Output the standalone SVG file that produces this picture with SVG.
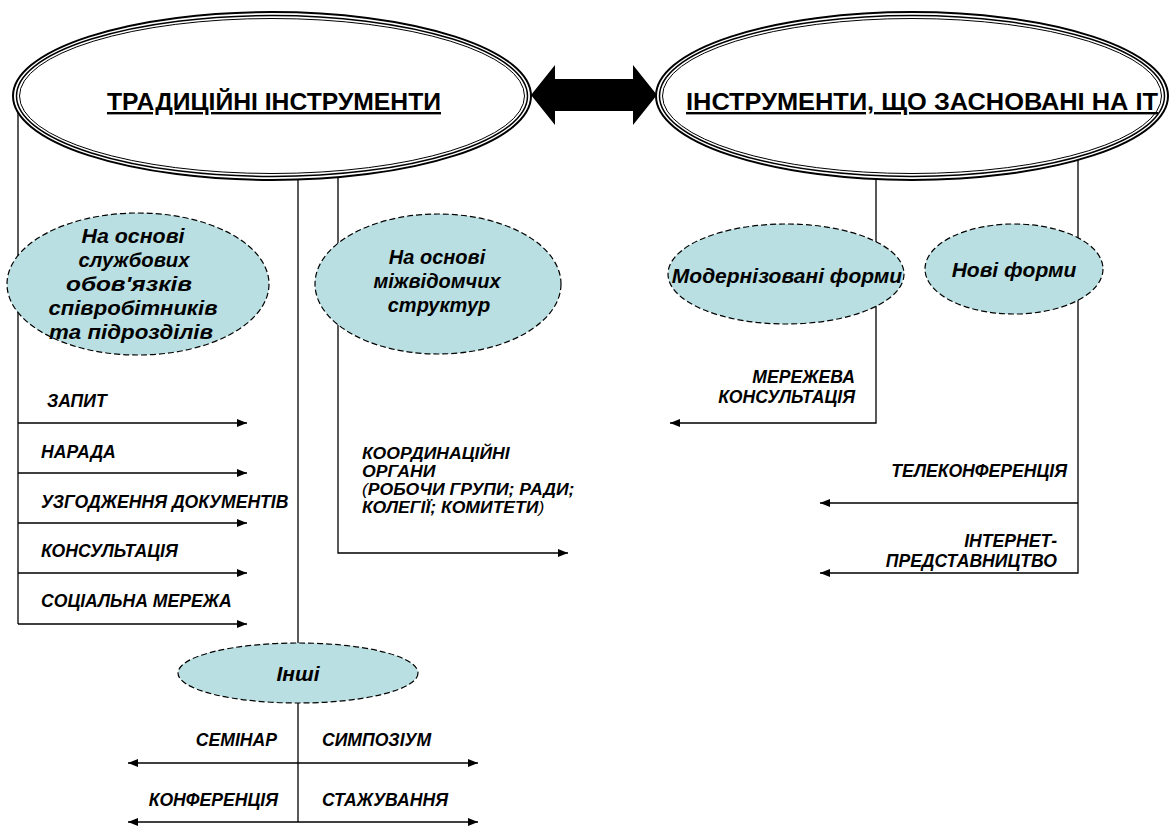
<svg xmlns="http://www.w3.org/2000/svg" width="1170" height="827" viewBox="0 0 1170 827">
<style>
text{font-family:"Liberation Sans",Arial,sans-serif;fill:#000}
.h{font-weight:bold;font-size:24px;text-anchor:middle;text-decoration:underline}
.e{font-weight:bold;font-style:italic;font-size:21px;text-anchor:middle}
.l{font-weight:bold;font-style:italic;font-size:17.6px}
.c{font-weight:bold;font-style:italic;font-size:15.6px}
.r{text-anchor:end}
.n{font-weight:normal}
.ln{fill:none;stroke:#000;stroke-width:1.3}
.dash{fill:#b9dfe2;stroke:#000;stroke-width:1.2;stroke-dasharray:6 3}
.bo{fill:none;stroke:#000}
</style>
<defs>
<marker id="ah" viewBox="0 0 10 8" refX="10" refY="4" markerWidth="10" markerHeight="8" markerUnits="userSpaceOnUse" orient="auto-start-reverse"><path d="M0,0 L10,4 L0,8 z" fill="#000"/></marker>
</defs>
<rect width="1170" height="827" fill="#fff"/>
<g id="connectors">
<path class="ln" d="M18,110 V624"/>
<path class="ln" d="M18,423 H247" marker-end="url(#ah)"/>
<path class="ln" d="M18,473 H247" marker-end="url(#ah)"/>
<path class="ln" d="M18,523 H247" marker-end="url(#ah)"/>
<path class="ln" d="M18,573 H247" marker-end="url(#ah)"/>
<path class="ln" d="M18,624 H247" marker-end="url(#ah)"/>
<path class="ln" d="M298,170 V822"/>
<path class="ln" d="M128,763 H478" marker-start="url(#ah)" marker-end="url(#ah)"/>
<path class="ln" d="M128,822 H478" marker-start="url(#ah)" marker-end="url(#ah)"/>
<path class="ln" d="M338,170 V553 H568" marker-end="url(#ah)"/>
<path class="ln" d="M876,170 V423 H670" marker-end="url(#ah)"/>
<path class="ln" d="M1078,150 V573 H820" marker-end="url(#ah)"/>
<path class="ln" d="M1078,503 H820" marker-end="url(#ah)"/>
<polygon points="531,95 555,65 555,79 633,79 633,65 657,95 633,125 633,111 555,111 555,125" fill="#000"/>
<text class="l" x="47" y="407">ЗАПИТ</text>
<text class="l" x="41" y="458">НАРАДА</text>
<text class="l" x="41" y="508">УЗГОДЖЕННЯ ДОКУМЕНТІВ</text>
<text class="l" x="41" y="557">КОНСУЛЬТАЦІЯ</text>
<text class="l" x="41" y="607">СОЦІАЛЬНА МЕРЕЖА</text>
<g transform="translate(362,0) scale(1.128,1) translate(-362,0)">
<text class="c" x="362" y="459">КООРДИНАЦІЙНІ</text>
<text class="c" x="362" y="477">ОРГАНИ</text>
<text class="c" x="362" y="495"><tspan class="n">(</tspan>РОБОЧИ ГРУПИ; РАДИ;</text>
<text class="c" x="362" y="513">КОЛЕГІЇ; КОМИТЕТИ<tspan class="n">)</tspan></text>
</g>
<text class="l r" x="277" y="746">СЕМІНАР</text>
<text class="l" x="322" y="746">СИМПОЗІУМ</text>
<text class="l r" x="278" y="806">КОНФЕРЕНЦІЯ</text>
<text class="l" x="322" y="806">СТАЖУВАННЯ</text>
<text class="l r" x="855" y="383">МЕРЕЖЕВА</text>
<text class="l r" x="855" y="403">КОНСУЛЬТАЦІЯ</text>
<text class="l r" x="1067" y="477">ТЕЛЕКОНФЕРЕНЦІЯ</text>
<text class="l r" x="1057" y="547">ІНТЕРНЕТ-</text>
<text class="l r" x="1057" y="567">ПРЕДСТАВНИЦТВО</text>
</g>
<g id="node-traditional">
<ellipse cx="272" cy="96" rx="259" ry="84" fill="#fff" stroke="#000" stroke-width="2"/>
<ellipse class="bo" cx="272" cy="96" rx="255.5" ry="80.5" stroke-width="1.5"/>
<ellipse class="bo" cx="272" cy="96" rx="252.5" ry="77.5" stroke-width="1"/>
<text class="h" x="274" y="110" textLength="334" lengthAdjust="spacingAndGlyphs">ТРАДИЦІЙНІ ІНСТРУМЕНТИ</text>
</g>
<g id="node-it">
<ellipse cx="912" cy="96" rx="256" ry="84" fill="#fff" stroke="#000" stroke-width="2"/>
<ellipse class="bo" cx="912" cy="96" rx="252.5" ry="80.5" stroke-width="1.5"/>
<ellipse class="bo" cx="912" cy="96" rx="249.5" ry="77.5" stroke-width="1"/>
<text class="h" x="922" y="110" textLength="472" lengthAdjust="spacingAndGlyphs">ІНСТРУМЕНТИ, ЩО ЗАСНОВАНІ НА ІТ</text>
</g>
<g id="node-duties">
<ellipse class="dash" cx="138" cy="284" rx="131" ry="71"/>
<text class="e" x="133" y="243" textLength="103" lengthAdjust="spacingAndGlyphs">На основі</text>
<text class="e" x="134" y="267" textLength="111" lengthAdjust="spacingAndGlyphs">службових</text>
<text class="e" x="129" y="291" textLength="126" lengthAdjust="spacingAndGlyphs">обов'язків</text>
<text class="e" x="133" y="315" textLength="169" lengthAdjust="spacingAndGlyphs">співробітників</text>
<text class="e" x="131" y="339" textLength="164" lengthAdjust="spacingAndGlyphs">та підрозділів</text>
</g>
<g id="node-interagency">
<ellipse class="dash" cx="438" cy="284" rx="123" ry="70"/>
<text class="e" x="437" y="264" style="font-size:20px">На основі</text>
<text class="e" x="437" y="288" style="font-size:20px">міжвідомчих</text>
<text class="e" x="439" y="312" style="font-size:20px">структур</text>
</g>
<g id="node-modern">
<ellipse class="dash" cx="786" cy="274" rx="118" ry="50"/>
<text class="e" x="787" y="283">Модернізовані форми</text>
</g>
<g id="node-new">
<ellipse class="dash" cx="1014" cy="269" rx="89" ry="45"/>
<text class="e" x="1014" y="277">Нові форми</text>
</g>
<g id="node-other">
<ellipse class="dash" cx="298" cy="673" rx="120" ry="30"/>
<text class="e" x="298" y="681">Інші</text>
</g>
</svg>
